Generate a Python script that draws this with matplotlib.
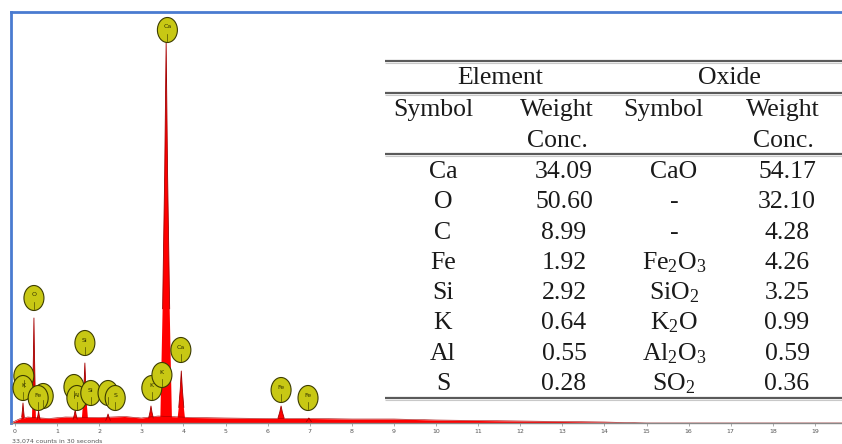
import numpy as np
import matplotlib
matplotlib.use('Agg')
import matplotlib.pyplot as plt
from matplotlib.patches import Ellipse

plt.rcParams['mathtext.fontset'] = 'custom'
plt.rcParams['mathtext.rm'] = 'Liberation Serif'
plt.rcParams['mathtext.default'] = 'regular'

# spectrum data (keV, counts)
bg_energy = [-0.1, 0.1, 0.3, 0.8, 1.2, 2, 2.6, 3, 3.4, 4.2, 5, 6, 7, 8, 9, 10, 11, 12, 13, 14, 15, 19.7]
bg_counts = [0, 40, 60, 45, 60, 55, 65, 50, 70, 55, 50, 45, 45, 40, 40, 30, 25, 20, 15, 10, 0, 0]

peak_energy = [0.19, 0.45, 0.56, 1.43, 1.66, 2.21, 3.23, 3.59, 3.95, 6.32, 6.98]
peak_counts = [200, 1050, 120, 130, 600, 90, 170, 3810, 520, 170, 50]
peak_width = [0.05, 0.05, 0.06, 0.08, 0.08, 0.09, 0.09, 0.14, 0.10, 0.12, 0.10]

# element markers: name, energy, height (drawn back to front)
marker_names = ['', 'K', '', 'Fe', '', 'Al', 'Si', '', 'S', 'K', 'K', 'Ca', 'Si', 'O', 'Ca', 'Fe', 'Fe']
marker_energy = [0.21, 0.19, 0.67, 0.55, 1.40, 1.47, 1.80, 2.21, 2.38, 3.25, 3.49, 3.94, 1.66, 0.45, 3.62, 6.32, 6.96]
marker_height = [470, 350, 270, 250, 360, 250, 300, 300, 250, 350, 480, 730, 800, 1250, 3930, 330, 250]

# table
elem_sym = ['Ca', 'O', 'C', 'Fe', 'Si', 'K', 'Al', 'S']
elem_wt = ['34.09', '50.60', '8.99', '1.92', '2.92', '0.64', '0.55', '0.28']
oxide_sym = ['CaO', '-', '-', 'Fe$_2$O$_3$', 'SiO$_2$', 'K$_2$O', 'Al$_2$O$_3$', 'SO$_2$']
oxide_wt = ['54.17', '32.10', '4.28', '4.26', '3.25', '0.99', '0.59', '0.36']

W, H = 842, 444
fig = plt.figure(figsize=(W / 100, H / 100), dpi=100)

ax = fig.add_axes([11 / W, (H - 423) / H, (W - 11) / W, (423 - 12) / H])
ax.set_xlim((11 - 15) / 42.1, (W - 15) / 42.1)
ax.set_ylim(0, 4110)

red = '#ff0000'
edge = '#a00000'
ax.fill_between(bg_energy, bg_counts, 0, color=red, lw=0)
ax.plot(bg_energy, bg_counts, color=edge, lw=0.4)
fw = [1, 0.6, 0.25, 0]
fh = [0, 0.3, 0.65, 1]
for e, c, w in zip(peak_energy, peak_counts, peak_width):
    xs = [e - w * f for f in fw] + [e + w * f for f in fw[::-1]][1:]
    ys = [c * f for f in fh] + [c * f for f in fh[::-1]][1:]
    ax.fill(xs, ys, color=red, lw=0)
    ax.plot(xs[1:-1], ys[1:-1], color=edge, lw=0.6)

ew, eh = 20 / 42.1, 250
for name, e, h in zip(marker_names, marker_energy, marker_height):
    ax.add_patch(Ellipse((e, h), ew, eh, facecolor='#c8c814', edgecolor='#3c3c00', lw=0.8, zorder=5))
    ax.text(e, h + 30, name, fontsize=4.5, ha='center', va='center', color='#303000', zorder=6)
    ax.plot([e, e], [h - 110, h - 40], color='#505000', lw=0.5, zorder=6)

ax.spines['right'].set_visible(False)
ax.spines['top'].set_color('#4a7bd0')
ax.spines['left'].set_color('#4a7bd0')
ax.spines['top'].set_linewidth(2)
ax.spines['left'].set_linewidth(2)
ax.spines['bottom'].set_color('#888888')
ax.spines['bottom'].set_linewidth(1)
ax.set_yticks([])
ax.set_xticks(range(0, 20))
ax.set_xticklabels([str(i) for i in range(0, 20)])
ax.tick_params(axis='x', length=2, width=0.5, color='#888888', labelsize=4.5,
               labelcolor='#555555', pad=2)
ax.patch.set_alpha(0)

# overlay in pixel coordinates for table and caption
ov = fig.add_axes([0, 0, 1, 1])
ov.set_xlim(0, W)
ov.set_ylim(H, 0)
ov.axis('off')
ov.patch.set_alpha(0)

ov.text(12, 441, '33,074 counts in 30 seconds', fontsize=4.5, color='#555555', va='center')

for y in [61, 93, 154, 398]:
    ov.plot([385, W], [y, y], color='#5a5a5a', lw=1.6, solid_capstyle='butt')
    ov.plot([385, W], [y + 2, y + 2], color='#c8c8c8', lw=0.8, solid_capstyle='butt')

tf = dict(family='Liberation Serif', fontsize=18.5, color='#1a1a1a', ha='center', va='center')
ov.text(500, 78, 'Element', **tf)
ov.text(729, 78, 'Oxide', **tf)
ov.text(433, 110, 'Symbol', **tf)
ov.text(557, 110, 'Weight', **tf)
ov.text(663, 110, 'Symbol', **tf)
ov.text(783, 110, 'Weight', **tf)
ov.text(557, 141, 'Conc.', **tf)
ov.text(783, 141, 'Conc.', **tf)

row_y = [172, 202, 233, 263, 293, 323, 354, 384]
for i, y in enumerate(row_y):
    ov.text(443, y, elem_sym[i], **tf)
    ov.text(564, y, elem_wt[i], **tf)
    ov.text(674, y, oxide_sym[i], **tf)
    ov.text(787, y, oxide_wt[i], **tf)

fig.savefig('out.png', dpi=100)
